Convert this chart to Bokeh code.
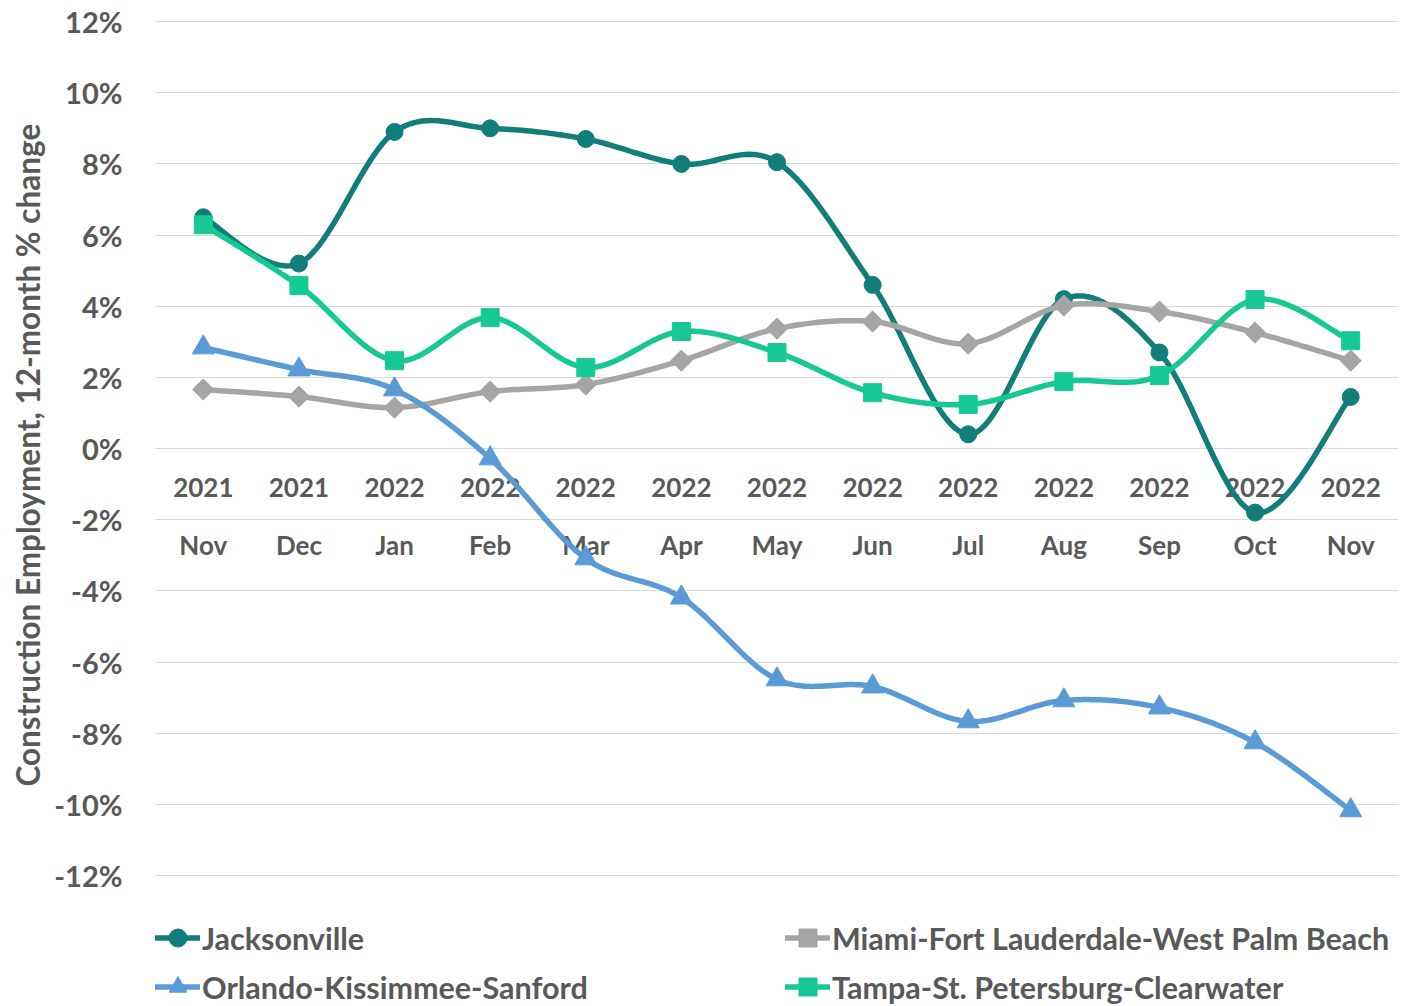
import numpy as np
from bokeh.plotting import figure
from bokeh.models import Range1d, FixedTicker, PrintfTickFormatter, Legend, LegendItem, Title
from bokeh.core.properties import value
from bokeh.embed import file_html
from bokeh.resources import INLINE

years = ["2021", "2021", "2022", "2022", "2022", "2022", "2022", "2022", "2022", "2022", "2022", "2022", "2022"]
months = ["Nov", "Dec", "Jan", "Feb", "Mar", "Apr", "May", "Jun", "Jul", "Aug", "Sep", "Oct", "Nov"]

jacksonville = [6.5, 5.2, 8.9, 9.0, 8.7, 8.0, 8.05, 4.6, 0.4, 4.2, 2.7, -1.8, 1.45]
miami = [1.66, 1.46, 1.15, 1.6, 1.8, 2.47, 3.37, 3.57, 2.95, 4.02, 3.85, 3.26, 2.47]
orlando = [2.84, 2.22, 1.66, -0.28, -3.09, -4.19, -6.49, -6.69, -7.67, -7.08, -7.28, -8.26, -10.17]
tampa = [6.29, 4.58, 2.47, 3.68, 2.28, 3.29, 2.7, 1.57, 1.24, 1.88, 2.05, 4.19, 3.03]

# name, values, colour, marker, size, angle
series = [
    ("Jacksonville", jacksonville, "#117e7a", "circle", 17, 0.0),
    ("Miami-Fort Lauderdale-West Palm Beach", miami, "#a5a5a5", "square", 15, np.pi / 4),
    ("Orlando-Kissimmee-Sanford", orlando, "#5b9bd5", "triangle", 22, 0.0),
    ("Tampa-St. Petersburg-Clearwater", tampa, "#16c994", "square", 18, 0.0),
]

y_ticks = list(range(-12, 13, 2))
y_title = "Construction Employment, 12-month % change"

FONT = "Lato"
TXT = "#595959"


def smooth(ys, n=24):
    xs = np.arange(len(ys), dtype=float)
    pts = np.column_stack([xs, np.array(ys, dtype=float)])
    out = []
    m = len(pts)
    for i in range(m - 1):
        p0 = pts[i - 1] if i > 0 else pts[i]
        p1 = pts[i]
        p2 = pts[i + 1]
        p3 = pts[i + 2] if i + 2 < m else pts[i + 1]
        c1 = p1 + (p2 - p0) / 6.0
        c2 = p2 - (p3 - p1) / 6.0
        t = np.linspace(0, 1, n, endpoint=(i == m - 2))[:, None]
        seg = ((1 - t) ** 3) * p1 + 3 * ((1 - t) ** 2) * t * c1 + 3 * (1 - t) * (t ** 2) * c2 + (t ** 3) * p2
        out.append(seg)
    out = np.vstack(out)
    return out[:, 0], out[:, 1]


# frame extends below -12% to leave room for the legend (no grid there)
p = figure(width=1405, height=1004,
           x_range=Range1d(-0.5, 12.5), y_range=Range1d(-15.626, 12.2),
           output_backend="svg", toolbar_location=None,
           min_border_left=155, min_border_right=7, min_border_top=14, min_border_bottom=0)

p.outline_line_color = None
p.xaxis.visible = False
p.xgrid.visible = False
p.ygrid.grid_line_color = "#d9d9d9"
p.ygrid.grid_line_width = 1
p.ygrid.ticker = FixedTicker(ticks=y_ticks)

ya = p.yaxis[0]
ya.ticker = FixedTicker(ticks=y_ticks)
ya.formatter = PrintfTickFormatter(format="%d%%")
ya.axis_line_color = None
ya.major_tick_line_color = None
ya.minor_tick_line_color = None
ya.major_label_standoff = 27
ya.major_label_text_font = FONT
ya.major_label_text_font_style = "bold"
ya.major_label_text_font_size = "29px"
ya.major_label_text_color = TXT

ytitle = Title(text=y_title, align="left", offset=218, standoff=10,
               text_font=FONT, text_font_style="bold", text_font_size="31.5px", text_color=TXT)
p.add_layout(ytitle, "left")

# category labels placed at the zero line
xs = list(range(len(months)))
p.text(x=xs, y=[0] * len(xs), text=years, y_offset=39,
       text_align="center", text_baseline="middle",
       text_font=value(FONT), text_font_style="bold", text_font_size="26px", text_color=TXT)
p.text(x=xs, y=[0] * len(xs), text=months, y_offset=96,
       text_align="center", text_baseline="middle",
       text_font=value(FONT), text_font_style="bold", text_font_size="26px", text_color=TXT)

items = []
for name, vals, color, marker, size, ang in series:
    sx, sy = smooth(vals)
    r1 = p.line(sx, sy, line_color=color, line_width=5.5, line_join="round", line_cap="round")
    r2 = p.scatter(xs, vals, marker=marker, size=size, angle=ang,
                   fill_color=color, line_color=color)
    items.append(LegendItem(label=name, renderers=[r1, r2]))

legend = Legend(items=items, location=(0, -5), orientation="horizontal", ncols=2,
                glyph_width=45, glyph_height=45, label_height=45, label_standoff=2,
                spacing=4, label_width=579, padding=0, margin=0,
                border_line_color=None, background_fill_alpha=0,
                label_text_font=FONT, label_text_font_style="bold",
                label_text_font_size="30.5px", label_text_color=TXT)
p.add_layout(legend)

open("out.html", "w").write(file_html(p, INLINE))
